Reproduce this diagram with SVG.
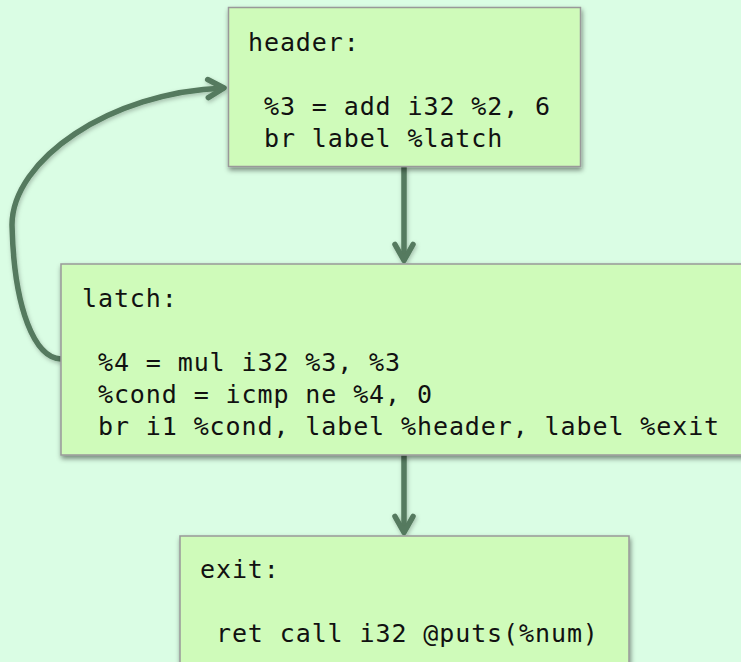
<svg xmlns="http://www.w3.org/2000/svg" width="741" height="662" viewBox="0 0 741 662">
  <defs>
    <style>
      .bg { fill: #dafde4; }
      .box { fill: #cffbba; stroke: #999999; stroke-width: 1.5; filter: url(#shadow); }
      .t { font-family: "DejaVu Sans Mono", "Liberation Mono", monospace; font-size: 25px; letter-spacing: 0.9px; fill: #111111; }
      .edge { fill: none; stroke: #557a5e; stroke-width: 5.5; stroke-linecap: butt; filter: url(#eshadow); }
    </style>
    <filter id="shadow" x="-10%" y="-10%" width="125%" height="130%">
      <feDropShadow dx="1" dy="3" stdDeviation="2.5" flood-color="#000000" flood-opacity="0.45"/>
    </filter>
    <filter id="eshadow" filterUnits="userSpaceOnUse" x="0" y="0" width="741" height="662">
      <feDropShadow dx="1" dy="2" stdDeviation="2" flood-color="#000000" flood-opacity="0.25"/>
    </filter>
    <marker id="arrow" markerUnits="userSpaceOnUse" viewBox="-24 -14 30 28" markerWidth="30" markerHeight="28" refX="0" refY="0" orient="auto">
      <path d="M-16,-9 L0,0 L-16,9" fill="none" stroke="#557a5e" stroke-width="5.5" stroke-linecap="round" stroke-linejoin="round"/>
    </marker>
  </defs>
  <rect class="bg" x="0" y="0" width="741" height="662"/>

  <g id="connectors">
    <path class="edge" d="M404,167 L404,260.5" marker-end="url(#arrow)"/>
    <path class="edge" d="M404,455 L404,532.5" marker-end="url(#arrow)"/>
    <path class="edge" d="M61,359 C35,358 14,310 12,225 C12,160 110,92 224,88" marker-end="url(#arrow)"/>
  </g>

  <g id="header">
    <rect class="box" x="228.5" y="7.5" width="352" height="159"/>
    <text class="t" x="248" y="51" xml:space="preserve">header:</text>
    <text class="t" x="248" y="115" xml:space="preserve"> %3 = add i32 %2, 6</text>
    <text class="t" x="248" y="147" xml:space="preserve"> br label %latch</text>
  </g>

  <g id="latch">
    <rect class="box" x="61" y="264" width="690" height="191"/>
    <text class="t" x="82" y="307" xml:space="preserve">latch:</text>
    <text class="t" x="82" y="371" xml:space="preserve"> %4 = mul i32 %3, %3</text>
    <text class="t" x="82" y="403" xml:space="preserve"> %cond = icmp ne %4, 0</text>
    <text class="t" x="82" y="435" xml:space="preserve"> br i1 %cond, label %header, label %exit</text>
  </g>

  <g id="exit">
    <rect class="box" x="180" y="536" width="449" height="140"/>
    <text class="t" x="200" y="578" xml:space="preserve">exit:</text>
    <text class="t" x="200" y="642" xml:space="preserve"> ret call i32 @puts(%num)</text>
  </g>
</svg>
